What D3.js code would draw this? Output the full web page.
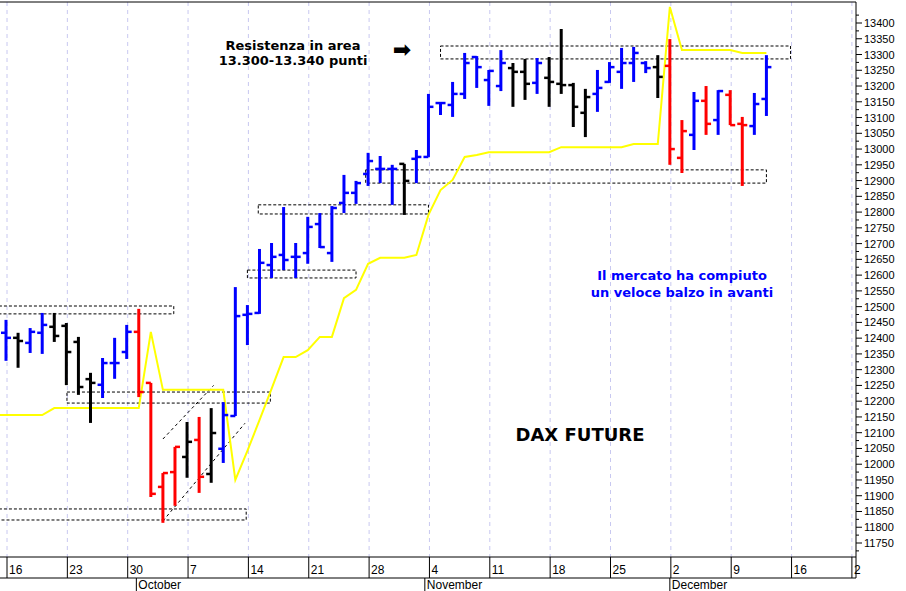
<!DOCTYPE html>
<html><head><meta charset="utf-8">
<script src="https://cdn.jsdelivr.net/npm/d3@7"></script>
<style>body{margin:0;background:#fff}svg{display:block}</style>
</head><body><svg id="c" width="906" height="591"></svg>
<script>
// OHLC per trading day starting Mon 16 Sep 2019 (index = weekday count)
const highs=[12458,12417,12432,12480,12480,12448,12404,12290,12337,12401,12442,12493,12258,11972,12055,12134,12150,12178,12197,12562,12505,12683,12702,12816,12702,12785,12797,12819,12918,12899,12988,12978,12950,12953,12997,13175,13149,13213,13305,13295,13251,13314,13273,13286,13289,13292,13381,13210,13191,13251,13276,13321,13324,13279,13298,13349,13092,13181,13200,13187,13187,13102,13178,13298];
const lows=[12328,12306,12353,12350,12388,12251,12220,12131,12210,12271,12334,12213,11896,11814,11868,11957,11909,11941,12004,12153,12378,12477,12591,12616,12591,12636,12686,12642,12797,12826,12883,12892,12823,12791,12892,12975,13108,13102,13159,13194,13137,13184,13134,13156,13175,13134,13175,13070,13038,13118,13210,13191,13213,13241,13162,12950,12924,12997,13045,13045,13076,12883,13045,13105];
const opens=[12417,12401,12385,12417,12436,12439,12388,12270,12252,12321,12356,12420,12258,11928,11975,12023,12077,11969,12049,12153,12474,12480,12632,12664,12658,12670,12762,12670,12829,12861,12921,12937,12937,12953,12969,12975,13146,13140,13175,13292,13219,13200,13257,13245,13210,13226,13207,13203,13115,13175,13213,13245,13273,13273,13260,13264,12972,13045,13153,13092,13172,13080,13073,13159];
const closes=[12401,12391,12420,12442,12407,12356,12245,12258,12321,12321,12420,12229,11906,11972,12055,12071,11960,12099,12156,12470,12477,12639,12658,12648,12658,12753,12689,12813,12861,12892,12962,12937,12937,12899,12975,13134,13146,13175,13273,13260,13248,13273,13245,13207,13273,13213,13203,13134,13165,13194,13260,13273,13305,13257,13229,13000,13057,13153,13080,13184,13076,13076,13143,13260];
const colorCodes="BKBBKKKKBBBRRRRKRKBBBBBBBBBBBBBBBKBBBBBBBBKKBKKKKBBBBBKRRBRBRRBB";
const yellow=[12156,12156,12156,12156,12178,12178,12178,12178,12178,12178,12178,12178,12420,12236,12236,12236,12236,12236,12236,11950,12042,12140,12239,12340,12340,12362,12404,12404,12527,12553,12636,12655,12655,12655,12664,12791,12870,12902,12975,12981,12990,12990,12990,12990,12990,12990,13006,13006,13006,13006,13006,13006,13016,13016,13016,13451,13314,13314,13314,13314,13314,13305,13305,13305];
// dashed zones: [startIndex, endIndex, low, high]
const zones=[[-1,13.9,12477,12502],[5.05,21.9,12194,12229],[-1,19.9,11823,11858],[20,29,12591,12616],[20.9,35,12794,12823],[29.8,63.0,12892,12934],[36,65,13286,13327]];
// diagonal channel lines [i1,v1,i2,v2]
const channel=[[13,12080,17.2,12250],[13,11820,19.8,12130]];
const weekLabels=["16","23","30","7","14","21","28","4","11","18","25","2","9","16","2"];
const monthLabels=[["October",10.8],["November",34.7],["December",55]];
const yTicks=d3.range(11750,13401,50);

const svg=d3.select("#c");
const L=0,R=856,T=2,B=557;
const x=d3.scaleLinear().domain([0,1]).range([6,6+12.07]);
const y=d3.scaleLinear().domain([11750,13400]).range([543,23]);
const col={B:"#0000ff",K:"#000000",R:"#ff0000"};

svg.append("rect").attr("x",0).attr("y",T).attr("width",R).attr("height",B-T).attr("fill","#fff");
weekLabels.forEach((t,i)=>{svg.append("line").attr("x1",x(i*5)+1).attr("x2",x(i*5)+1).attr("y1",T).attr("y2",B).attr("stroke","#c8c8f0").attr("stroke-dasharray","4,4");});
const g=svg.append("g");
zones.forEach(z=>{g.append("rect").attr("x",x(z[0])).attr("y",y(z[3])).attr("width",x(z[1])-x(z[0])).attr("height",y(z[2])-y(z[3])).attr("fill","none").attr("stroke","#000").attr("stroke-dasharray","3,2");});
channel.forEach(c=>{g.append("line").attr("x1",x(c[0])).attr("y1",y(c[1])).attr("x2",x(c[2])).attr("y2",y(c[3])).attr("stroke","#000").attr("stroke-dasharray","3,3");});
g.append("path").datum(yellow).attr("fill","none").attr("stroke","#ffff00").attr("stroke-width",2)
 .attr("d",d3.line().x((d,i)=>i===0?L:x(i)).y(d=>y(d)));
highs.forEach((h,i)=>{
 const c=col[colorCodes[i]],xi=x(i);
 g.append("line").attr("x1",xi).attr("x2",xi).attr("y1",y(h)).attr("y2",y(lows[i])).attr("stroke",c).attr("stroke-width",3);
 g.append("line").attr("x1",xi-5).attr("x2",xi).attr("y1",y(opens[i])).attr("y2",y(opens[i])).attr("stroke",c).attr("stroke-width",2.5);
 g.append("line").attr("x1",xi).attr("x2",xi+5).attr("y1",y(closes[i])).attr("y2",y(closes[i])).attr("stroke",c).attr("stroke-width",2.5);
});
svg.append("line").attr("x1",0).attr("x2",R).attr("y1",T).attr("y2",T).attr("stroke","#000");
svg.append("line").attr("x1",R).attr("x2",R).attr("y1",T).attr("y2",578).attr("stroke","#000");
svg.append("line").attr("x1",0).attr("x2",R).attr("y1",B).attr("y2",B).attr("stroke","#000");
svg.append("line").attr("x1",0).attr("x2",R).attr("y1",578).attr("y2",578).attr("stroke","#000");
yTicks.forEach(v=>{
 svg.append("line").attr("x1",R).attr("x2",R+6).attr("y1",y(v)).attr("y2",y(v)).attr("stroke","#000");
 svg.append("line").attr("x1",R).attr("x2",R+3).attr("y1",y(v+25)).attr("y2",y(v+25)).attr("stroke","#000");
 svg.append("text").attr("x",R+8).attr("y",y(v)+4).text(v).attr("font-family","Liberation Sans, Arial").attr("font-size",11);
});
svg.append("line").attr("x1",R).attr("x2",R+3).attr("y1",y(11725)).attr("y2",y(11725)).attr("stroke","#000");
weekLabels.forEach((t,i)=>{
 const xi=x(i*5)+1;
 svg.append("line").attr("x1",xi).attr("x2",xi).attr("y1",B).attr("y2",578).attr("stroke","#000");
 svg.append("text").attr("x",xi+2).attr("y",574).text(t).attr("font-family","Liberation Sans, Arial").attr("font-size",12);
});
monthLabels.forEach(m=>{
 const xm=x(m[1]);
 svg.append("line").attr("x1",xm).attr("x2",xm).attr("y1",578).attr("y2",591).attr("stroke","#000");
 svg.append("text").attr("x",xm+2).attr("y",589).text(m[0]).attr("font-family","Liberation Sans, Arial").attr("font-size",12);
});
const tf="Tahoma, DejaVu Sans, Verdana";
[["Resistenza in area",50],["13.300-13.340 punti",65]].forEach(a=>svg.append("text").attr("x",293).attr("y",a[1]).attr("text-anchor","middle").attr("font-family",tf).attr("font-weight","bold").attr("font-size",13).text(a[0]));
svg.append("text").attr("x",402).attr("y",57).attr("text-anchor","middle").attr("font-family","DejaVu Sans").attr("font-weight","bold").attr("font-size",22).text("➡");
[["Il mercato ha compiuto",280],["un veloce balzo in avanti",297]].forEach(a=>svg.append("text").attr("x",682).attr("y",a[1]).attr("text-anchor","middle").attr("font-family",tf).attr("font-weight","bold").attr("font-size",13).attr("fill","#0000ff").text(a[0]));
svg.append("text").attr("x",580).attr("y",441).attr("text-anchor","middle").attr("font-family",tf).attr("font-weight","bold").attr("font-size",18).text("DAX FUTURE");
</script></body></html>
